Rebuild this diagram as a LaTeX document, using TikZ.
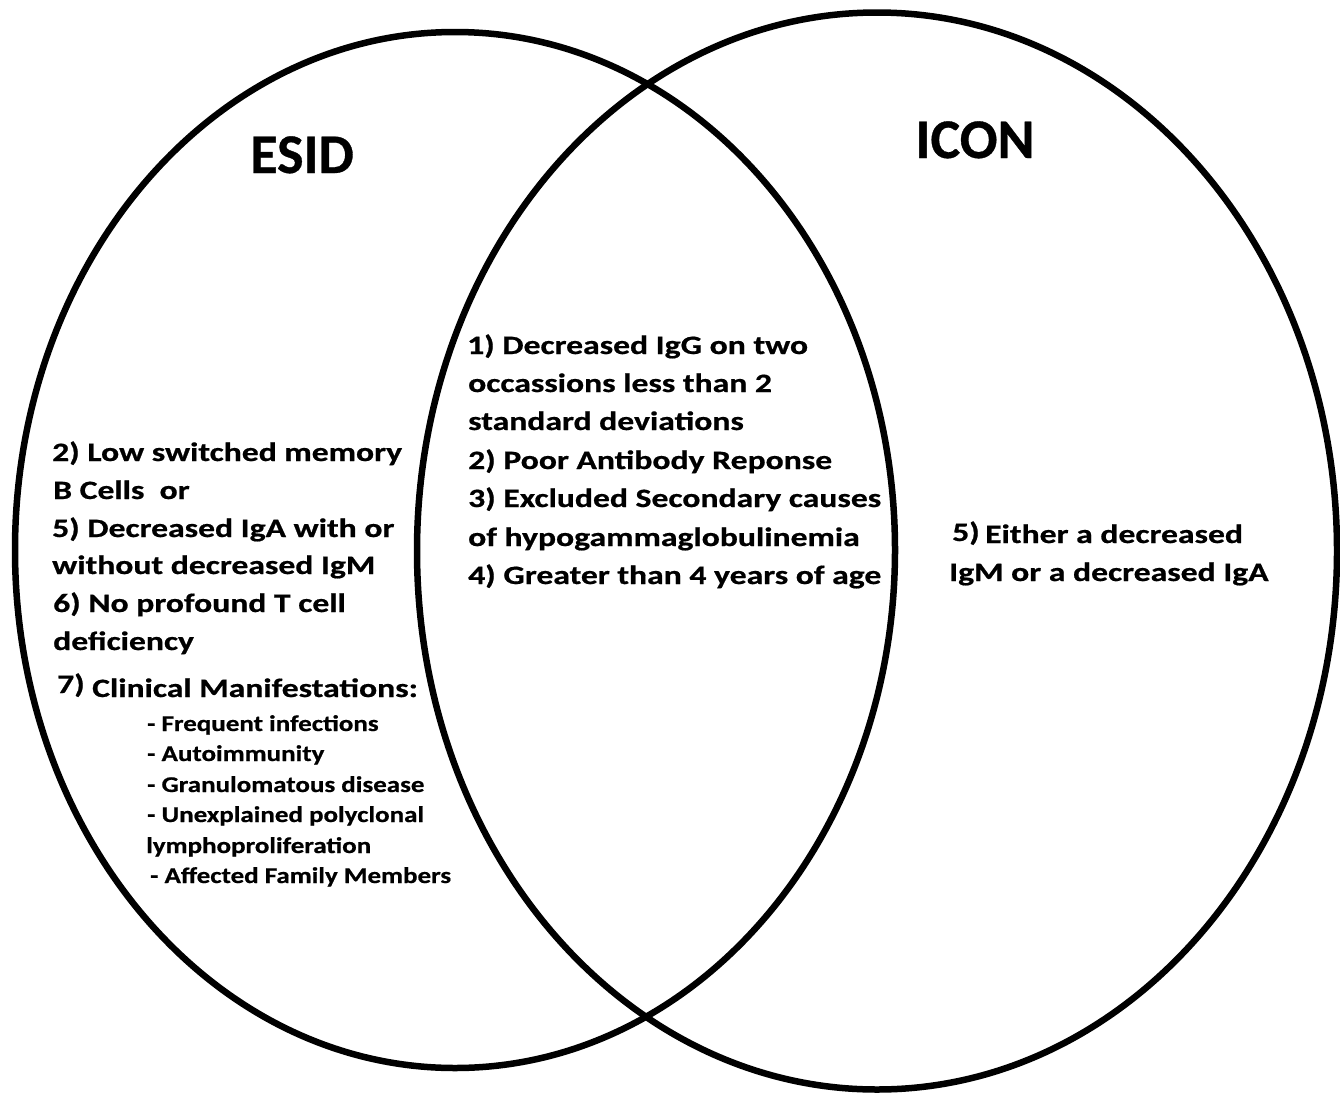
\documentclass[tikz,border=0pt]{standalone}
\usepackage{fontspec}
\usepackage{graphicx}
\setmainfont{Carlito}[BoldFeatures={FakeBold=0.6}]
\usetikzlibrary{shapes.geometric}
\newcommand\stretchtxt[2]{\scalebox{#1}[1]{#2}}
\tikzset{
  vset/.style={draw=black, line width=6.5pt, ellipse, inner sep=0pt},
  ttl/.style={anchor=base, inner sep=0pt, font=\fontsize{56}{60}\selectfont\bfseries},
  mainln/.style={anchor=base west, inner sep=0pt, font=\fontsize{26.5}{30}\selectfont\bfseries},
  subln/.style={anchor=base west, inner sep=0pt, font=\fontsize{22.5}{26}\selectfont\bfseries},
}
\newcommand\mw{1.27}
\newcommand\sw{1.2}
\begin{document}
\begin{tikzpicture}[x=1pt,y=-1pt]
\useasboundingbox (0,0) rectangle (1340,1095);
\fill[white] (0,0) rectangle (1340,1095);
% sets
\node[vset, minimum width=880pt, minimum height=1036pt] (esidset) at (455,550) {};
\node[vset, minimum width=920pt, minimum height=1077pt] (iconset) at (877,551) {};
% titles
\node[ttl] (esid) at (302,173) {ESID};
\node[ttl] (icon) at (975,158) {ICON};
% left block
\node[mainln] (l1) at (52,461) {\stretchtxt{\mw}{2) Low switched memory}};
\node[mainln] (l2) at (53,499) {\stretchtxt{\mw}{B Cells\ \ or}};
\node[mainln] (l3) at (52,537) {\stretchtxt{\mw}{5) Decreased IgA with or}};
\node[mainln] (l4) at (52,574) {\stretchtxt{\mw}{without decreased IgM}};
\node[mainln] (l5) at (53,612) {\stretchtxt{\mw}{6) No profound T cell}};
\node[mainln] (l6) at (53,650) {\stretchtxt{\mw}{deficiency}};
\node[mainln] (l7n) at (57,693) {\stretchtxt{\mw}{7)}};
\node[mainln] (l7) at (92,697) {\stretchtxt{\mw}{Clinical Manifestations:}};
\node[subln] (s1) at (147,731) {\stretchtxt{\sw}{- Frequent infections}};
\node[subln] (s2) at (147,761) {\stretchtxt{\sw}{- Autoimmunity}};
\node[subln] (s3) at (147,792) {\stretchtxt{\sw}{- Granulomatous disease}};
\node[subln] (s4) at (147,822) {\stretchtxt{\sw}{- Unexplained polyclonal}};
\node[subln] (s5) at (146,853) {\stretchtxt{\sw}{lymphoproliferation}};
\node[subln] (s6) at (150,883) {\stretchtxt{\sw}{- Affected Family Members}};
% intersection block
\node[mainln] (c1) at (467,354) {\stretchtxt{\mw}{1) Decreased IgG on two}};
\node[mainln] (c2) at (468,392) {\stretchtxt{\mw}{occassions less than 2}};
\node[mainln] (c3) at (468,430) {\stretchtxt{\mw}{standard deviations}};
\node[mainln] (c4) at (468,469) {\stretchtxt{\mw}{2) Poor Antibody Reponse}};
\node[mainln] (c5) at (468,507) {\stretchtxt{\mw}{3) Excluded Secondary causes}};
\node[mainln] (c6) at (468,546) {\stretchtxt{\mw}{of hypogammaglobulinemia}};
\node[mainln] (c7) at (468,584) {\stretchtxt{\mw}{4) Greater than 4 years of age}};
% right block
\node[mainln] (r1n) at (952,541) {\stretchtxt{\mw}{5)}};
\node[mainln] (r1) at (985,543) {\stretchtxt{\mw}{Either a decreased}};
\node[mainln] (r2) at (949,581) {\stretchtxt{\mw}{IgM or a decreased IgA}};
\end{tikzpicture}
\end{document}
